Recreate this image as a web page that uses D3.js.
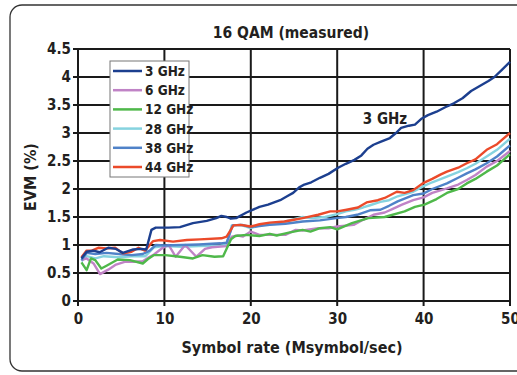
<!DOCTYPE html>
<html>
<head>
<meta charset="utf-8">
<script src="https://cdn.jsdelivr.net/npm/d3@7"></script>
<style>
  body { margin: 0; background: #fff; }
  text { font-family: "DejaVu Sans Condensed", "Liberation Sans Narrow", sans-serif; font-weight: bold; font-stretch: condensed; fill: #231f20; }
</style>
</head>
<body>
<div id="c"></div>
<script>
"use strict";

// tick values
const xTicks = [0, 10, 20, 30, 40, 50]
const yTicks = [0, 0.5, 1, 1.5, 2, 2.5, 3, 3.5, 4, 4.5]

const seriesNames = ["3 GHz", "6 GHz", "12 GHz", "28 GHz", "38 GHz", "44 GHz"]
const seriesColors = ["#1c3f8f", "#c083c6", "#4fb84a", "#86d3df", "#4f82c8", "#eb4a2a"]

// [symbol rate, EVM]
const ghz3 = [[0.4,0.76],[1,0.88],[1.8,0.9],[2.5,0.87],[3.5,0.95],[4.4,0.93],[5.2,0.86],[6.4,0.92],[7.3,0.93],[7.9,0.92],[8.5,1.27],[9,1.31],[10.5,1.31],[11.8,1.32],[13.3,1.39],[14.9,1.43],[16,1.48],[16.6,1.52],[17.2,1.5],[17.7,1.47],[18.3,1.48],[19.5,1.58],[21,1.68],[22,1.72],[23.4,1.8],[24.2,1.87],[24.9,1.93],[25.6,2.03],[26.2,2.08],[27,2.12],[28,2.2],[29,2.27],[30.1,2.38],[31,2.45],[32,2.52],[32.8,2.6],[33.5,2.72],[34.2,2.79],[35,2.84],[36.1,2.91],[36.8,3.0],[37.4,3.09],[38.3,3.13],[39,3.15],[39.8,3.26],[40.5,3.32],[41.5,3.38],[42.5,3.46],[43.5,3.53],[44.5,3.62],[45.5,3.75],[46.5,3.84],[47.5,3.93],[48.2,4.0],[49,4.12],[50,4.27]]
const ghz6 = [[0.4,0.73],[1,0.76],[1.8,0.67],[2.55,0.48],[3.5,0.56],[4.4,0.65],[5.4,0.7],[6.5,0.7],[7.5,0.71],[8.2,0.78],[8.8,0.83],[9.8,0.95],[10.5,1.0],[11.3,0.79],[12.4,1.0],[13.7,0.79],[14.7,0.93],[15.5,0.96],[17.2,0.98],[17.8,1.15],[18.5,1.17],[19.1,1.15],[20,1.24],[21,1.18],[22.2,1.18],[24,1.18],[25.2,1.27],[26,1.26],[27.8,1.3],[29,1.3],[30,1.33],[31.9,1.36],[33,1.45],[34.2,1.54],[35.5,1.58],[36.5,1.65],[37.5,1.72],[38.8,1.8],[40,1.85],[41,1.93],[42.7,2.01],[44,2.08],[45,2.16],[46,2.25],[47.3,2.4],[48.5,2.5],[50,2.68]]
const ghz12 = [[0.4,0.69],[1,0.55],[1.5,0.76],[2,0.73],[2.7,0.58],[3.3,0.63],[4.6,0.74],[6,0.73],[7.5,0.67],[8.1,0.75],[8.8,0.82],[10.1,0.82],[11.8,0.79],[13.3,0.76],[14.4,0.82],[15.8,0.79],[16.8,0.8],[17.7,1.1],[18.2,1.16],[19.5,1.18],[21,1.16],[22.2,1.2],[23,1.17],[24.4,1.22],[26,1.27],[26.9,1.24],[28,1.3],[29.2,1.32],[30,1.28],[31.7,1.39],[33.6,1.48],[35.5,1.5],[37.8,1.6],[39,1.68],[40.1,1.72],[41.5,1.82],[42.7,1.93],[44,2.0],[45,2.1],[46,2.18],[47.3,2.31],[48.5,2.42],[50,2.62]]
const ghz28 = [[0.4,0.71],[1,0.8],[2,0.76],[3,0.8],[4.7,0.78],[6.2,0.8],[7.8,0.8],[8.8,0.96],[10,0.98],[12,0.97],[14,0.98],[16.5,0.99],[17.2,1.0],[17.8,1.35],[18.8,1.36],[20,1.3],[21,1.35],[22,1.37],[23,1.38],[24,1.42],[25,1.46],[26,1.5],[27,1.48],[28.6,1.5],[30,1.55],[31,1.6],[32,1.63],[33,1.67],[33.8,1.71],[35,1.77],[36,1.8],[37,1.87],[38.8,1.95],[40,2.05],[41,2.12],[42.7,2.22],[44,2.3],[45,2.37],[46,2.45],[47.3,2.58],[48.5,2.7],[50,2.9]]
const ghz38 = [[0.4,0.73],[1,0.86],[2,0.84],[3.3,0.86],[4.7,0.84],[6.2,0.82],[7.5,0.84],[8.3,0.9],[9,1.0],[10,0.99],[12,1.0],[14,1.01],[16.5,1.03],[17.2,1.04],[17.9,1.35],[19,1.36],[20,1.32],[21,1.34],[22.2,1.36],[24,1.38],[26,1.42],[28,1.44],[29.9,1.48],[31,1.5],[32.3,1.54],[33.8,1.62],[35,1.63],[36,1.7],[37,1.78],[38.8,1.89],[40,1.92],[41,2.0],[42.7,2.1],[44,2.2],[45,2.28],[46,2.35],[47.3,2.46],[48.5,2.58],[50,2.78]]
const ghz44 = [[0.4,0.78],[1,0.9],[1.6,0.9],[2.35,0.95],[3.3,0.94],[4.3,0.95],[5.2,0.85],[6.2,0.88],[7,0.95],[7.75,0.9],[8.7,1.07],[9.5,1.09],[11,1.06],[12.6,1.09],[14.1,1.1],[16.6,1.12],[17.2,1.15],[18,1.35],[18.8,1.36],[20,1.33],[21,1.37],[22.2,1.4],[23.9,1.42],[25,1.45],[26,1.48],[27.8,1.54],[29.2,1.6],[30,1.6],[31.1,1.63],[32.4,1.67],[33.4,1.76],[34.7,1.8],[35.5,1.84],[36.9,1.95],[37.8,1.93],[38.8,1.98],[40,2.11],[41,2.18],[42,2.26],[42.7,2.31],[44,2.38],[45,2.46],[46,2.53],[47.3,2.7],[48.5,2.8],[50,3.0]]

const allSeries = [ghz3, ghz6, ghz12, ghz28, ghz38, ghz44]
const drawOrder = [3, 1, 2, 4, 5, 0]

const W = 517, H = 375
const margin = {top: 49, right: 7, bottom: 74, left: 78}
const width = W - margin.left - margin.right
const height = H - margin.top - margin.bottom

let svg = d3.select('#c').append('svg')
    .attr('width', W).attr('height', H)

// outer rounded frame
svg.append('rect')
    .attr('x', 10).attr('y', 5)
    .attr('width', 540).attr('height', 366)
    .attr('rx', 12)
    .attr('fill', 'none')
    .attr('stroke', '#333')
    .attr('stroke-width', 1.3)

let g = svg.append('g')
    .attr('transform', 'translate(' + margin.left + ',' + margin.top + ')')

let xScale = d3.scaleLinear().domain([0, 50]).range([0, width])
let yScale = d3.scaleLinear().domain([0, 4.5]).range([height, 0])

// grid
g.append('g').selectAll('line').data(yTicks).enter().append('line')
    .attr('x1', -5).attr('x2', width)
    .attr('y1', d => yScale(d)).attr('y2', d => yScale(d))
    .attr('stroke', '#1a1a1a').attr('stroke-width', 2)
g.append('g').selectAll('line').data(xTicks).enter().append('line')
    .attr('x1', d => xScale(d)).attr('x2', d => xScale(d))
    .attr('y1', 0).attr('y2', height + 5)
    .attr('stroke', '#1a1a1a').attr('stroke-width', 2)

// tick labels via axes
let yAxis = g.append('g')
    .call(d3.axisLeft(yScale).tickValues(yTicks).tickSize(0).tickPadding(7)
        .tickFormat(d => d3.format('')(d)))
let xAxis = g.append('g')
    .attr('transform', 'translate(0,' + height + ')')
    .call(d3.axisBottom(xScale).tickValues(xTicks).tickSize(0).tickPadding(12))
;[yAxis, xAxis].forEach(a => {
    a.select('.domain').remove()
    a.selectAll('text').attr('font-size', 15).attr('font-family', null)
})

// series
let line = d3.line()
    .x(d => xScale(d[0]))
    .y(d => yScale(d[1]))
    .curve(d3.curveLinear)

drawOrder.forEach(i => {
    g.append('path')
        .datum(allSeries[i])
        .attr('fill', 'none')
        .attr('stroke', seriesColors[i])
        .attr('stroke-width', 2.4)
        .attr('stroke-linejoin', 'round')
        .attr('d', line)
})

// title and axis labels
svg.append('text')
    .attr('x', 291).attr('y', 38)
    .attr('text-anchor', 'middle')
    .attr('font-size', 15.5)
    .text('16 QAM (measured)')
svg.append('text')
    .attr('x', 292).attr('y', 353)
    .attr('text-anchor', 'middle')
    .attr('font-size', 16)
    .text('Symbol rate (Msymbol/sec)')
svg.append('text')
    .attr('transform', 'translate(36,177) rotate(-90)')
    .attr('text-anchor', 'middle')
    .attr('font-size', 16)
    .text('EVM (%)')

// inline label
svg.append('text')
    .attr('x', 385).attr('y', 124)
    .attr('text-anchor', 'middle')
    .attr('font-size', 15)
    .text('3 GHz')

// legend
let legend = svg.append('g').attr('transform', 'translate(110,61)')
legend.append('rect')
    .attr('x', 0).attr('y', 0)
    .attr('width', 79).attr('height', 116)
    .attr('fill', '#fff')
    .attr('stroke', '#777')
    .attr('stroke-width', 1)
let items = legend.selectAll('g.item').data(seriesNames).enter().append('g')
    .attr('class', 'item')
    .attr('transform', (d, i) => 'translate(0,' + (10 + i * 19.2) + ')')
items.append('line')
    .attr('x1', 3).attr('x2', 32)
    .attr('y1', 0).attr('y2', 0)
    .attr('stroke', (d, i) => seriesColors[i])
    .attr('stroke-width', 2.5)
items.append('text')
    .attr('x', 35).attr('y', 5)
    .attr('font-size', 13.5)
    .text(d => d)
</script>
</body>
</html>
